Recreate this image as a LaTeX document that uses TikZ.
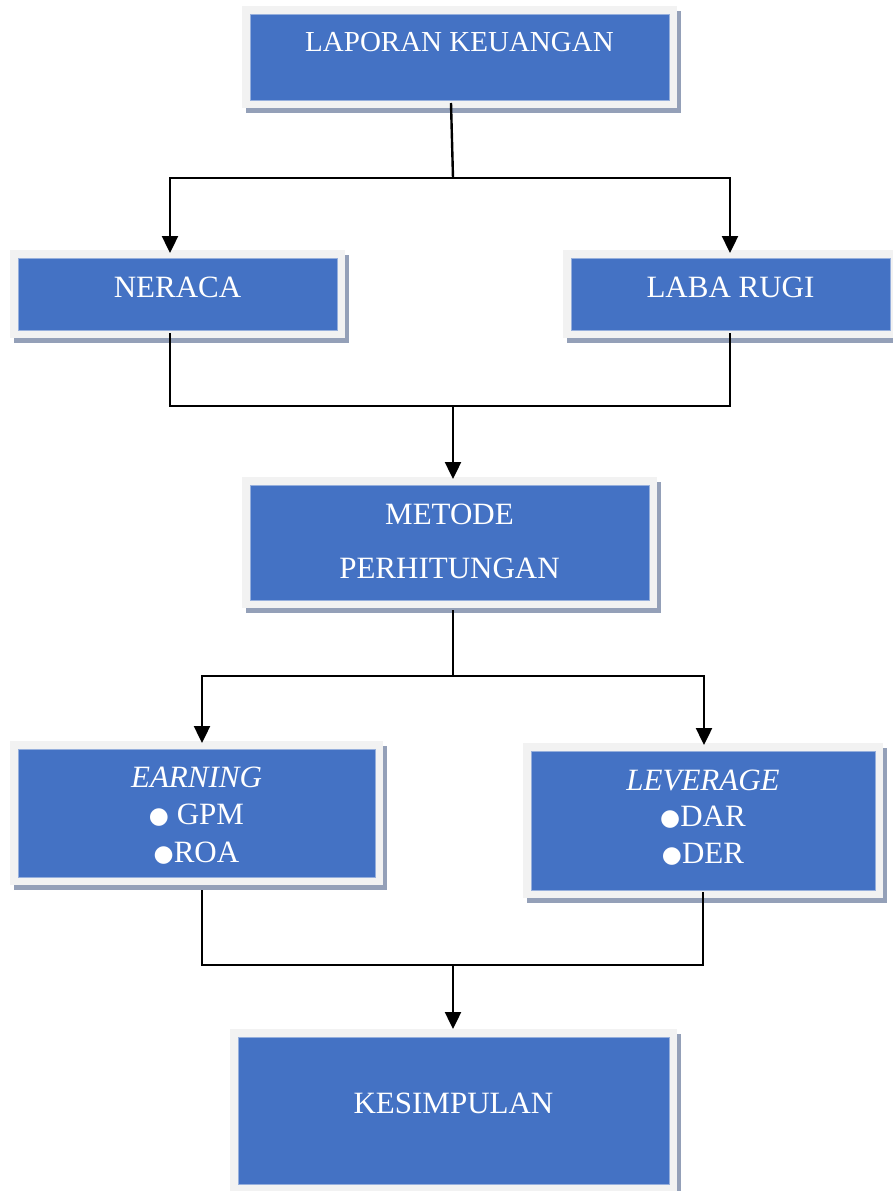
\documentclass[tikz,border=0pt]{standalone}
\usepackage{fontspec}
\setmainfont{Liberation Serif}
\newfontfamily\symfont{DejaVu Sans}
\usetikzlibrary{arrows.meta,shadows,calc}
\definecolor{boxblue}{RGB}{68,114,196}
\definecolor{boxedge}{RGB}{150,175,220}
\definecolor{framegray}{RGB}{242,242,242}
\definecolor{shadowc}{RGB}{148,160,184}
\newcommand\blt{{\symfont\fontsize{23}{23}\selectfont\raisebox{1pt}{●}}}
\begin{document}
\begin{tikzpicture}[x=1pt,y=-1pt,
  card/.style={rectangle, inner sep=0pt, outer sep=0pt, fill=framegray, text=white,
    align=center, font=\fontsize{31}{37}\selectfont, text height=25pt,
    general shadow={fill=shadowc, shadow xshift=3.5pt, shadow yshift=-4.5pt},
    path picture={
      \fill[boxblue] ([shift={(7.5pt,7.5pt)}]path picture bounding box.south west)
        rectangle ([shift={(-7.5pt,-7.5pt)}]path picture bounding box.north east);
      \draw[boxedge, line width=0.8pt] ([shift={(7.9pt,7.9pt)}]path picture bounding box.south west)
        rectangle ([shift={(-7.9pt,-7.9pt)}]path picture bounding box.north east);
    }},
  conn/.style={draw=black, line width=2.4pt},
  arr/.style={conn, -{Triangle[width=16pt,length=17pt]}}]
\useasboundingbox (0,0) rectangle (892,1191);

\node[card, minimum width=435pt, minimum height=102pt, text depth=35.8pt,
  font=\fontsize{29}{35}\selectfont] (LK) at (459.5,57) {LAPORAN KEUANGAN};
\node[card, minimum width=335pt, minimum height=88pt, text depth=18.5pt] (NER) at (177.5,294) {NERACA};
\node[card, minimum width=335pt, minimum height=88pt, text depth=18.5pt] (LR) at (730.5,294) {LABA RUGI};
\node[card, minimum width=415pt, minimum height=131pt, text height=79pt, text depth=7.5pt,
  font=\fontsize{31}{54}\selectfont] (MET) at (449.5,542.5) {METODE\\PERHITUNGAN};
\node[card, minimum width=373pt, minimum height=144pt, text height=100pt, text depth=1.5pt,
  font=\fontsize{31}{37.5}\selectfont] (EAR) at (196.5,813) {\textit{EARNING}\\\blt\ GPM\\\blt ROA};
\node[card, minimum width=360pt, minimum height=155pt, text height=98pt, text depth=12.5pt,
  font=\fontsize{31}{36.5}\selectfont] (LEV) at (703,820.5) {\textit{LEVERAGE}\\\blt DAR\\\blt DER};
\node[card, minimum width=447pt, minimum height=163pt, text depth=19.5pt] (KES) at (453.5,1110.5) {KESIMPULAN};

\coordinate (j1) at (453,178);
\coordinate (j2) at (453,406);
\coordinate (j3) at (453,676);
\coordinate (j4) at (453,965);

\draw[conn] ([xshift=-8.5pt,yshift=5pt]LK.south) -- (j1);
\draw[arr, shorten >=-3pt] (j1) -| ([xshift=-7.5pt]NER.north);
\draw[arr, shorten >=-3pt] (j1) -| ([xshift=-0.5pt]LR.north);

\draw[conn] ([xshift=-7.5pt,yshift=5pt]NER.south) |- (j2);
\draw[conn] ([xshift=-0.5pt,yshift=5pt]LR.south) |- (j2);
\draw[arr, shorten >=-2pt] (j2) -- (j2 |- MET.north);

\draw[conn] ([yshift=-2pt]MET.south -| j3) -- (j3);
\draw[arr, shorten >=-2pt] (j3) -| ([xshift=5.5pt]EAR.north);
\draw[arr, shorten >=-2pt] (j3) -| ([xshift=1pt]LEV.north);

\draw[conn] ([xshift=5.5pt,yshift=-5pt]EAR.south) |- (j4);
\draw[conn] ([yshift=6pt]LEV.south) |- (j4);
\draw[arr] (j4) -- (j4 |- KES.north);
\end{tikzpicture}
\end{document}
